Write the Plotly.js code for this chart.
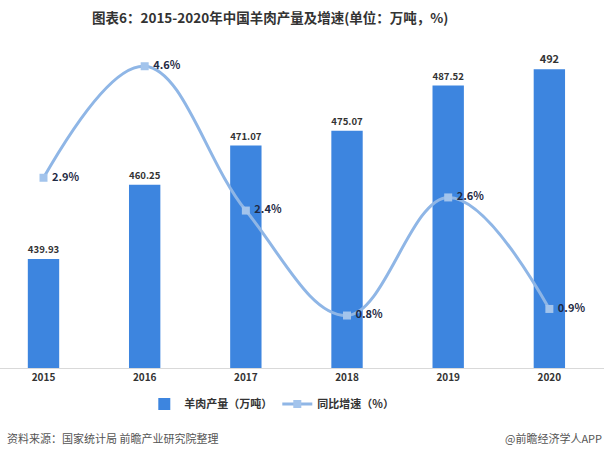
<!DOCTYPE html>
<html>
<head>
<meta charset="utf-8">
<script src="https://cdn.plot.ly/plotly-3.0.1.min.js"></script>
<style>html,body{margin:0;padding:0;background:#fff;}#chart{width:604px;height:455px;}</style>
</head>
<body>
<div id="chart"></div>
<script>
const years = ['2015','2016','2017','2018','2019','2020'];
const output = [439.93, 460.25, 471.07, 475.07, 487.52, 492];
const growth = [2.9, 4.6, 2.4, 0.8, 2.6, 0.9];
const barName = '羊肉产量（万吨）';
const lineName = '同比增速（%）';
const titleText = '图表6：2015-2020年中国羊肉产量及增速(单位：万吨，%)';
const sourceText = '资料来源：国家统计局 前瞻产业研究院整理';
const creditText = '@前瞻经济学人APP';

const FONT = '"Noto Sans CJK SC", "Liberation Sans", sans-serif';

const traces = [
  {
    type: 'bar', x: years, y: output, name: barName,
    marker: {color: '#3d85df'}, width: 0.31,
    text: output.map(v => String(v)), textposition: 'outside', cliponaxis: false,
    textfont: {family: FONT, size: 11, color: '#333', weight: 'bold'},
    hoverinfo: 'skip'
  },
  {
    type: 'scatter', mode: 'lines+markers+text', x: years, y: growth, yaxis: 'y2', name: lineName,
    line: {color: '#8fb6e6', width: 3, shape: 'spline', smoothing: 1.1},
    marker: {symbol: 'square', size: 8, color: '#a3c4ec'},
    text: growth.map(v => '\u00a0' + v.toFixed(1) + '%'), textposition: 'middle right', cliponaxis: false,
    textfont: {family: FONT, size: 11, color: '#1f2a44', weight: 'bold'},
    hoverinfo: 'skip'
  }
];

const layout = {
  width: 604, height: 455,
  margin: {l: 0, r: 0, t: 40, b: 87},
  paper_bgcolor: '#fff', plot_bgcolor: '#fff',
  font: {family: FONT, color: '#333'},
  showlegend: true,
  title: {text: titleText, x: 92/604, xanchor: 'left', y: 0.96, yanchor: 'middle',
          font: {family: FONT, size: 13.5, color: '#333', weight: 'bold'}},
  xaxis: {type: 'category', range: [-0.43, 5.54], showgrid: false, zeroline: false,
          showline: true, linecolor: '#d9d9d9', linewidth: 1, ticks: '',
          tickfont: {family: FONT, size: 10, color: '#333', weight: 'bold'}, fixedrange: true},
  yaxis: {range: [410, 500], visible: false, showgrid: false, zeroline: false, fixedrange: true},
  yaxis2: {range: [0, 5], overlaying: 'y', side: 'right', visible: false, showgrid: false, zeroline: false, fixedrange: true},
  legend: {orientation: 'h', x: 0.45, xanchor: 'center', y: -0.11, yanchor: 'middle',
           font: {family: FONT, size: 11, color: '#333', weight: 'bold'}, itemwidth: 30, tracegroupgap: 0},
  annotations: [
    {xref: 'paper', yref: 'paper', x: 5/604, y: -(438-368)/328, xanchor: 'left', yanchor: 'middle',
     text: sourceText, showarrow: false, font: {family: FONT, size: 11, color: '#555'}},
    {xref: 'paper', yref: 'paper', x: 1, y: -(438-368)/328, xanchor: 'right', yanchor: 'middle',
     text: creditText, showarrow: false, font: {family: FONT, size: 11, color: '#555'}}
  ]
};

Plotly.newPlot('chart', traces, layout, {displayModeBar: false, staticPlot: true});
</script>
</body>
</html>
